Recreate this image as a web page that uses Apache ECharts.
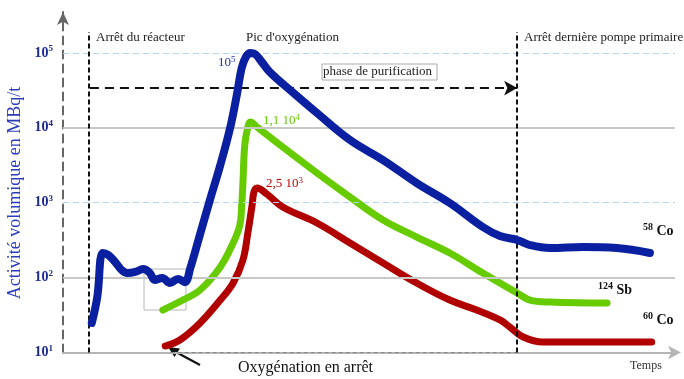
<!DOCTYPE html>
<html><head><meta charset="utf-8">
<script src="https://cdn.jsdelivr.net/npm/echarts@6/dist/echarts.min.js"></script>
<style>html,body{margin:0;padding:0;background:#fff}#c{width:684px;height:379px}</style>
</head><body><div id="c"></div>
<script>
// ---- data (time in arbitrary units, activity in MBq/t) ----
const co58X = [4.7,5.6,6.5,7.4,8.5,9.6,10.5,11.8,13.1,14.2,15.0,16.2,17.5,18.8,19.9,20.8,22.4,24.0,25.7,27.3,28.4,29.2,29.9,30.6,31.4,32.5,33.8,37.1,41.5,46.9,52.3,57.8,63.2,68.6,71.4,74.2,76.3,79.6,85.0,90.5,95.9];
const co58Y = [24.8,55,213,200,162,126,115,119,130,115,93,99,85,96,87,134,382,1084,3184,9930,27400,63200,88700,100000,96600,75500,55600,32000,15770,6870,3715,1832,991,474,359,318,272,248,256,248,213];
const sb124X = [16.3,19.9,22.4,25.7,27.8,28.9,29.2,29.4,29.7,30.2,30.6,31.9,35.9,41.5,46.9,52.3,57.8,63.2,68.6,74.2,76.3,79.6,88.9];
const sb124Y = [36.9,51.8,68.3,139,290,504,931,1832,5890,10240,11940,9930,5540,2493,1191,588,348,213,115,62.3,50.2,47.2,45.8];
const co60X = [16.7,19.1,22.4,25.7,27.8,29.4,30.2,30.9,31.2,31.7,33.3,35.9,41.5,46.9,52.3,57.8,63.2,67.6,71.4,73.0,75.2,78.4,85.0,96.2];
const co60Y = [12.2,14.7,24.8,50.2,84.7,172,394,931,1390,1572,1306,877,536,290,157,84.7,50.2,36.9,27.2,21.9,16.1,13.8,13.8,13.8];
const yTickPowers = [1,2,3,4,5];
const eventTimes = [4.25, 74.2];          // Arrêt du réacteur, Arrêt dernière pompe primaire
const purifStart = 4.4, purifEnd = 74.2, purifLevel = 33960;
const oxyOffStart = 17.6;

const serif = '"Liberation Serif","DejaVu Serif",serif';
const zip = (xs, ys) => xs.map((x, i) => [x, ys[i]]);

const chart = echarts.init(document.getElementById('c'));
const gRich = (color, size, supSize, weight, lift) => ({
  b: {fontFamily: serif, fontWeight: weight, fontSize: size, fill: color},
  s: {fontFamily: serif, fontWeight: weight, fontSize: supSize, fill: color, padding: [0,0,lift,0]}
});

chart.setOption({
  animation: false,
  grid: {left: 63, right: 9, top: 12, bottom: 26.5},
  xAxis: {
    type: 'value', min: 0, max: 100,
    axisLine: {show: true, symbol: ['none','arrow'], symbolSize: [10,13], symbolOffset: [0,6],
      lineStyle: {color: '#b5b5b5', width: 2}},
    axisTick: {show: false}, axisLabel: {show: false}, splitLine: {show: false}
  },
  yAxis: {
    type: 'log', logBase: 10, min: 10, max: Math.pow(10, 5.547),
    axisLine: {show: true, symbol: ['none','arrow'], symbolSize: [9,13],
      lineStyle: {color: '#666', width: 2, type: [8,6]}},
    axisTick: {show: false}, splitLine: {show: false},
    axisLabel: {
      margin: 10, showMaxLabel: false,
      formatter: function (v) {
        const l = Math.log10(v), e = Math.round(l);
        if (Math.abs(l - e) > 0.01 || yTickPowers.indexOf(e) < 0) return '';
        return '{b|10}{s|' + e + '}';
      },
      rich: {
        b: {fontFamily: serif, fontWeight: 'bold', fontSize: 14, color: '#1c2a8e'},
        s: {fontFamily: serif, fontWeight: 'bold', fontSize: 9, color: '#1c2a8e', padding: [0,0,8,0]}
      }
    }
  },
  graphic: [
    {type:'text', x: 15, y: 193, rotation: Math.PI/2,
      style: {text: 'Activité volumique en MBq/t', font: '18px ' + serif, fill: '#2a3cb8', align: 'center', verticalAlign: 'middle'}},
    {type:'text', x: 96, y: 38, style: {text: 'Arrêt du réacteur', font: '13px ' + serif, fill: '#222', verticalAlign: 'middle'}},
    {type:'text', x: 246, y: 38, style: {text: "Pic d'oxygénation", font: '13px ' + serif, fill: '#222', verticalAlign: 'middle'}},
    {type:'text', x: 524, y: 38, style: {text: 'Arrêt dernière pompe primaire', font: '13px ' + serif, fill: '#222', verticalAlign: 'middle'}},
    {type:'rect', shape: {x: 322, y: 64, width: 115, height: 16}, style: {fill: 'none', stroke: '#aaa', lineWidth: 1}},
    {type:'text', x: 323, y: 72, style: {text: 'phase de purification', font: '13px ' + serif, fill: '#222', verticalAlign: 'middle'}},
    {type:'text', x: 238, y: 368, style: {text: 'Oxygénation en arrêt', font: '16px ' + serif, fill: '#111', verticalAlign: 'middle'}},
    {type:'text', x: 630, y: 366, style: {text: 'Temps', font: '12px ' + serif, fill: '#333', verticalAlign: 'middle'}},
    {type:'line', shape: {x1: 200, y1: 365, x2: 174, y2: 351}, style: {stroke: '#111', lineWidth: 2}},
    {type:'polygon', shape: {points: [[168,347],[180,348.5],[174.5,357]]}, style: {fill: '#111'}},
    {type:'rect', shape: {x: 144, y: 269, width: 42, height: 41}, style: {fill: 'none', stroke: '#b8b8b8', lineWidth: 1}, z: 1},
    {type:'text', x: 218, y: 63, style: {text: '{b|10}{s|5}', rich: gRich('#2233aa', 13, 9, 'normal', 7), verticalAlign: 'middle'}},
    {type:'text', x: 263, y: 121, style: {text: '{b|1,1 10}{s|4}', rich: gRich('#66cc00', 13, 9, 'normal', 7), verticalAlign: 'middle'}},
    {type:'text', x: 266, y: 184, style: {text: '{b|2,5 10}{s|3}', rich: gRich('#c00000', 13, 9, 'normal', 7), verticalAlign: 'middle'}},
    {type:'text', x: 643, y: 231, style: {text: '{s|58}{b| Co}', rich: gRich('#111', 14, 10, 'bold', 8), verticalAlign: 'middle'}},
    {type:'text', x: 598, y: 290, style: {text: '{s|124}{b| Sb}', rich: gRich('#111', 14, 10, 'bold', 8), verticalAlign: 'middle'}},
    {type:'text', x: 643, y: 320, style: {text: '{s|60}{b| Co}', rich: gRich('#111', 14, 10, 'bold', 8), verticalAlign: 'middle'}}
  ],
  series: [
    {type: 'line', data: [], z: 1, silent: true,
      markLine: {silent: true, symbol: 'none', label: {show: false}, animation: false,
        data: [
          {yAxis: 1e4, lineStyle: {color: '#c8c8c8', width: 2, type: 'solid'}},
          {yAxis: 1e2, lineStyle: {color: '#c8c8c8', width: 2, type: 'solid'}},
          {yAxis: 1e5, lineStyle: {color: '#b3d4f2', width: 1, type: [6,4]}},
          {yAxis: 1e3, lineStyle: {color: '#b3d4f2', width: 1, type: [6,4]}},
          [{coord: [oxyOffStart, 10], lineStyle: {color: '#888', width: 1, type: [4,3]}}, {coord: [purifEnd, 10]}],
          [{coord: [eventTimes[0], 10], lineStyle: {color: '#111', width: 2, type: [5,3]}}, {coord: [eventTimes[0], 190000]}],
          [{coord: [eventTimes[1], 10], lineStyle: {color: '#111', width: 2, type: [5,3]}}, {coord: [eventTimes[1], 190000]}]
        ]}},
    {type: 'line', data: [], z: 2, silent: true,
      markLine: {silent: true, symbol: ['none','arrow'], symbolSize: [11,13], label: {show: false}, animation: false,
        data: [[{coord: [purifStart, purifLevel], lineStyle: {color: '#111', width: 2, type: [9,6]}}, {coord: [purifEnd, purifLevel]}]]}},
    {name: '58Co', type: 'line', data: zip(co58X, co58Y), z: 5, showSymbol: false, smooth: 0.4,
      lineStyle: {color: '#0a20a0', width: 8, cap: 'round', join: 'round'}},
    {name: '124Sb', type: 'line', data: zip(sb124X, sb124Y), z: 4, showSymbol: false, smooth: 0.4,
      lineStyle: {color: '#66cc00', width: 7, cap: 'round', join: 'round'}},
    {name: '60Co', type: 'line', data: zip(co60X, co60Y), z: 3, showSymbol: false, smooth: 0.4,
      lineStyle: {color: '#b00000', width: 7, cap: 'round', join: 'round'}}
  ]
});
</script></body></html>
